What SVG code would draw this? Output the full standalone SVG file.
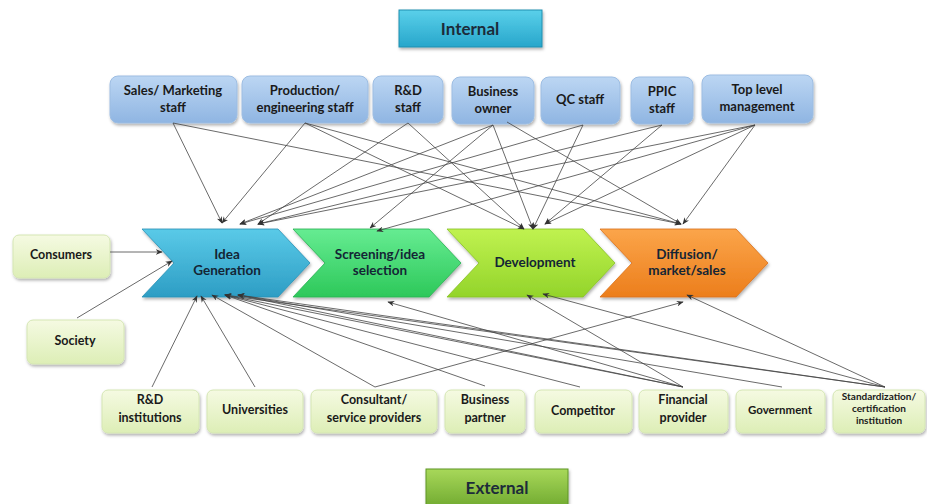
<svg xmlns="http://www.w3.org/2000/svg" width="927" height="504" viewBox="0 0 927 504">
<defs>
<style>
.t{font-family:Lato,"Liberation Sans",Arial,sans-serif;font-weight:700;fill:#1a1a1a;text-anchor:middle}
.tb{font-size:13px}
.ts{font-size:12.5px}
.tg{font-size:11.5px}
.tx{font-size:10px}
.tc{font-size:13.5px;fill:#142535}
.lab{font-size:17px;fill:#1c2b3a}
.topbox{fill:url(#gTop);stroke:#9DBDE2;stroke-width:1;filter:url(#sh)}
.extbox{fill:url(#gExt);stroke:#D5E6B4;stroke-width:1;filter:url(#sh)}
.c{stroke:#444;stroke-width:0.8;fill:none;marker-end:url(#ah)}
</style>
<filter id="sh" x="-10%" y="-10%" width="125%" height="140%">
<feDropShadow dx="1" dy="2" stdDeviation="1.5" flood-color="#000" flood-opacity="0.3"/>
</filter>
<linearGradient id="gTop" x1="0" y1="0" x2="0" y2="1"><stop offset="0" stop-color="#BCD6F3"/><stop offset="1" stop-color="#8FB5E2"/></linearGradient>
<linearGradient id="gExt" x1="0" y1="0" x2="0" y2="1"><stop offset="0" stop-color="#F5FAE2"/><stop offset="1" stop-color="#DDEEB6"/></linearGradient>
<linearGradient id="gInt" x1="0" y1="0" x2="0" y2="1"><stop offset="0" stop-color="#5AD0EA"/><stop offset="1" stop-color="#27A6CB"/></linearGradient>
<linearGradient id="gExtL" x1="0" y1="0" x2="0" y2="1"><stop offset="0" stop-color="#A8D85A"/><stop offset="1" stop-color="#6EA82E"/></linearGradient>
<linearGradient id="gIG" x1="0" y1="0" x2="0" y2="1"><stop offset="0" stop-color="#5ACAE8"/><stop offset="1" stop-color="#2D9DC4"/></linearGradient>
<linearGradient id="gSC" x1="0" y1="0" x2="0" y2="1"><stop offset="0" stop-color="#66EC92"/><stop offset="1" stop-color="#2DC85A"/></linearGradient>
<linearGradient id="gDV" x1="0" y1="0" x2="0" y2="1"><stop offset="0" stop-color="#C0F250"/><stop offset="1" stop-color="#93D42A"/></linearGradient>
<linearGradient id="gDF" x1="0" y1="0" x2="0" y2="1"><stop offset="0" stop-color="#FBA54A"/><stop offset="1" stop-color="#EC7E1C"/></linearGradient>
<path id="chev" d="M0,0 L136,0 L168,34 L136,68 L0,68 L32,34 Z"/>
<marker id="ah" viewBox="0 0 10 8" refX="9" refY="4" markerWidth="7" markerHeight="6" markerUnits="userSpaceOnUse" orient="auto">
<path d="M0,0 L10,4 L0,8 L3,4 Z" fill="#333"/>
</marker>
</defs>
<rect width="927" height="504" fill="#ffffff"/>

<g id="internal">
<rect x="399" y="10" width="143" height="37" fill="url(#gInt)" stroke="#1E8FB0" stroke-width="1" filter="url(#sh)"/>
<text class="t lab" x="470" y="35">Internal</text>
</g>
<g id="external">
<rect x="426" y="469" width="142" height="40" fill="url(#gExtL)" stroke="#5E9526" stroke-width="1" filter="url(#sh)"/>
<text class="t lab" x="497" y="494">External</text>
</g>

<g id="sales">
<rect class="topbox" x="110" y="76" width="127" height="47" rx="8"/>
<text class="t tb" x="173" y="95">Sales/ Marketing</text>
<text class="t tb" x="173" y="112">staff</text>
</g>
<g id="production">
<rect class="topbox" x="242" y="76" width="126" height="47" rx="8"/>
<text class="t tb" x="305" y="95">Production/</text>
<text class="t tb" x="305" y="112">engineering staff</text>
</g>
<g id="rdstaff">
<rect class="topbox" x="373" y="76" width="70" height="47" rx="8"/>
<text class="t tb" x="408" y="95">R&amp;D</text>
<text class="t tb" x="408" y="112">staff</text>
</g>
<g id="owner">
<rect class="topbox" x="452" y="77" width="82" height="47" rx="8"/>
<text class="t tb" x="493" y="96">Business</text>
<text class="t tb" x="493" y="113">owner</text>
</g>
<g id="qc">
<rect class="topbox" x="541" y="77" width="79" height="47" rx="8"/>
<text class="t tb" x="580" y="104">QC staff</text>
</g>
<g id="ppic">
<rect class="topbox" x="631" y="77" width="62" height="47" rx="8"/>
<text class="t tb" x="662" y="96">PPIC</text>
<text class="t tb" x="662" y="113">staff</text>
</g>
<g id="toplevel">
<rect class="topbox" x="702" y="75" width="111" height="48" rx="8"/>
<text class="t tb" x="757" y="94">Top level</text>
<text class="t tb" x="757" y="111">management</text>
</g>

<g id="idea">
<use href="#chev" x="142" y="229" fill="url(#gIG)" stroke="#2890B5" stroke-width="0.8" filter="url(#sh)"/>
<text class="t tc" x="227" y="259">Idea</text>
<text class="t tc" x="227" y="275">Generation</text>
</g>
<g id="screening">
<use href="#chev" x="293" y="229" fill="url(#gSC)" stroke="#27B050" stroke-width="0.8" filter="url(#sh)"/>
<text class="t tc" x="380" y="259">Screening/idea</text>
<text class="t tc" x="380" y="275">selection</text>
</g>
<g id="development">
<use href="#chev" x="447" y="229" fill="url(#gDV)" stroke="#86C025" stroke-width="0.8" filter="url(#sh)"/>
<text class="t tc" x="535" y="267">Development</text>
</g>
<g id="diffusion">
<use href="#chev" x="600" y="229" fill="url(#gDF)" stroke="#D9701A" stroke-width="0.8" filter="url(#sh)"/>
<text class="t tc" x="687" y="259">Diffusion/</text>
<text class="t tc" x="687" y="275">market/sales</text>
</g>

<g id="consumers">
<rect class="extbox" x="13" y="235" width="97" height="43" rx="6"/>
<text class="t ts" x="61" y="259">Consumers</text>
</g>
<g id="society">
<rect class="extbox" x="27" y="320" width="97" height="44" rx="6"/>
<text class="t ts" x="75" y="345">Society</text>
</g>

<g id="rdinst">
<rect class="extbox" x="102" y="390" width="97" height="43" rx="6"/>
<text class="t ts" x="150" y="404">R&amp;D</text>
<text class="t ts" x="150" y="422">institutions</text>
</g>
<g id="universities">
<rect class="extbox" x="207" y="390" width="96" height="43" rx="6"/>
<text class="t ts" x="255" y="414">Universities</text>
</g>
<g id="consultant">
<rect class="extbox" x="311" y="390" width="126" height="43" rx="6"/>
<text class="t ts" x="374" y="404">Consultant/</text>
<text class="t ts" x="374" y="422">service providers</text>
</g>
<g id="partner">
<rect class="extbox" x="445" y="390" width="80" height="43" rx="6"/>
<text class="t ts" x="485" y="404">Business</text>
<text class="t ts" x="485" y="422">partner</text>
</g>
<g id="competitor">
<rect class="extbox" x="535" y="390" width="97" height="43" rx="6"/>
<text class="t ts" x="583" y="415">Competitor</text>
</g>
<g id="financial">
<rect class="extbox" x="639" y="390" width="89" height="43" rx="6"/>
<text class="t ts" x="683" y="404">Financial</text>
<text class="t ts" x="683" y="422">provider</text>
</g>
<g id="government">
<rect class="extbox" x="736" y="390" width="89" height="43" rx="6"/>
<text class="t tg" x="780" y="414">Government</text>
</g>
<g id="standard">
<rect class="extbox" x="833" y="390" width="92" height="43" rx="6"/>
<text class="t tx" x="879" y="400">Standardization/</text>
<text class="t tx" x="879" y="412">certification</text>
<text class="t tx" x="879" y="424">institution</text>
</g>

<g id="connectors">
<line class="c" x1="173" y1="123" x2="222" y2="223"/>
<line class="c" x1="173" y1="123" x2="681" y2="224"/>
<line class="c" x1="305" y1="123" x2="222" y2="223"/>
<line class="c" x1="305" y1="123" x2="524" y2="229"/>
<line class="c" x1="305" y1="123" x2="681" y2="224"/>
<line class="c" x1="408" y1="123" x2="258" y2="224"/>
<line class="c" x1="408" y1="123" x2="524" y2="229"/>
<line class="c" x1="493" y1="125" x2="240" y2="224"/>
<line class="c" x1="493" y1="125" x2="370" y2="228"/>
<line class="c" x1="493" y1="125" x2="533" y2="229"/>
<line class="c" x1="507" y1="122" x2="681" y2="224"/>
<line class="c" x1="583" y1="125" x2="240" y2="224"/>
<line class="c" x1="583" y1="125" x2="533" y2="229"/>
<line class="c" x1="662" y1="125" x2="258" y2="224"/>
<line class="c" x1="662" y1="125" x2="545" y2="224"/>
<line class="c" x1="755" y1="125" x2="258" y2="224"/>
<line class="c" x1="755" y1="125" x2="377" y2="231"/>
<line class="c" x1="755" y1="125" x2="545" y2="224"/>
<line class="c" x1="755" y1="125" x2="683" y2="224"/>
<line class="c" x1="110" y1="252" x2="162" y2="252"/>
<line class="c" x1="77" y1="318" x2="172" y2="261"/>
<line class="c" x1="152" y1="387" x2="197" y2="296"/>
<line class="c" x1="255" y1="387" x2="201" y2="296"/>
<line class="c" x1="375" y1="387" x2="212" y2="295"/>
<line class="c" x1="375" y1="387" x2="683" y2="302"/>
<line class="c" x1="485" y1="386" x2="225" y2="295"/>
<line class="c" x1="580" y1="387" x2="225" y2="295"/>
<line class="c" x1="683" y1="387" x2="225" y2="295"/>
<line class="c" x1="683" y1="387" x2="238" y2="295"/>
<line class="c" x1="683" y1="387" x2="388" y2="302"/>
<line class="c" x1="683" y1="387" x2="527" y2="295"/>
<line class="c" x1="782" y1="387" x2="238" y2="295"/>
<line class="c" x1="885" y1="387" x2="238" y2="295"/>
<line class="c" x1="885" y1="387" x2="225" y2="295"/>
<line class="c" x1="885" y1="387" x2="543" y2="294"/>
<line class="c" x1="885" y1="387" x2="687" y2="295"/>
</g>
</svg>
